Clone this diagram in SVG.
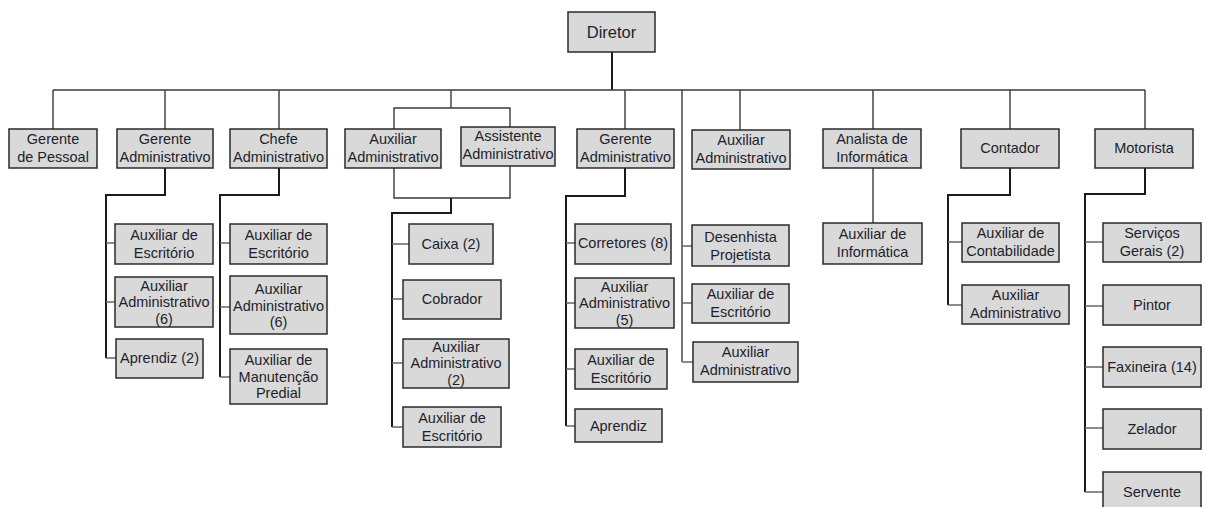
<svg xmlns="http://www.w3.org/2000/svg" width="1206" height="507" viewBox="0 0 1206 507">
<style>
.b{fill:#d9d9d9;stroke:#2a2a2a;stroke-width:1.5}
.t{font-family:"Liberation Sans",Arial,sans-serif;font-size:14.5px;fill:#1e1e2c;text-anchor:middle}
.c{fill:none;stroke:#3a3a3a;stroke-width:1.4}
.k{fill:none;stroke:#1a1a1a;stroke-width:2}
.s{fill:none;stroke:#666;stroke-width:1.3}
</style>
<rect width="1206" height="507" fill="#fff"/>
<g id="connectors">
<path class="k" d="M612 52V90"/>
<path class="c" d="M53 90H1145"/>
<path class="c" d="M53 90V129M165 90V129M279 90V129M451 90V108M625 90V129M682 90V362M740 90V130M873 90V129M1010 90V129M1145 90V129"/>
<path class="c" d="M394 129V108H510V127M394 168V198H510V166"/>
<path class="k" d="M451 198V213H392V427"/>
<path class="s" d="M392 244H409M392 299H403M392 363H403M392 427H403"/>
<path class="k" d="M165 168V195H106V358"/>
<path class="s" d="M106 243H115M106 302H115M106 358H116"/>
<path class="k" d="M279 168V195H220V377"/>
<path class="s" d="M220 243H230M220 307H230M220 377H230"/>
<path class="k" d="M625 168V196H566V426"/>
<path class="s" d="M566 243H575M566 303H575M566 369H575M566 426H575"/>
<path class="s" d="M682 246H692M682 303H692M682 362H693"/>
<path class="c" d="M873 168V223"/>
<path class="k" d="M1010 168V195H948V305"/>
<path class="s" d="M948 242H962M948 305H962"/>
<path class="k" d="M1145 168V194H1085V492"/>
<path class="s" d="M1085 242H1103M1085 306H1103M1085 367H1103M1085 428H1103M1085 492H1103"/>
</g>
<g id="diretor"><rect class="b" x="568" y="12" width="87" height="40"/><text class="t" x="611.5" y="38" style="font-size:16.5px">Diretor</text></g>
<g id="gerente-pessoal"><rect class="b" x="9" y="129" width="88" height="39"/><text class="t" x="53" y="144">Gerente<tspan x="53" y="162">de Pessoal</tspan></text></g>
<g id="gerente-adm-1"><rect class="b" x="117" y="129" width="96" height="39"/><text class="t" x="165" y="144">Gerente<tspan x="165" y="162">Administrativo</tspan></text></g>
<g id="chefe-adm"><rect class="b" x="230" y="129" width="97" height="39"/><text class="t" x="278.5" y="144">Chefe<tspan x="278.5" y="162">Administrativo</tspan></text></g>
<g id="aux-adm-top"><rect class="b" x="345" y="129" width="96" height="39"/><text class="t" x="393" y="144">Auxiliar<tspan x="393" y="162">Administrativo</tspan></text></g>
<g id="assistente-adm"><rect class="b" x="461" y="127" width="94" height="39"/><text class="t" x="508" y="141">Assistente<tspan x="508" y="159">Administrativo</tspan></text></g>
<g id="gerente-adm-2"><rect class="b" x="577" y="129" width="97" height="39"/><text class="t" x="625.5" y="144">Gerente<tspan x="625.5" y="162">Administrativo</tspan></text></g>
<g id="aux-adm-top-2"><rect class="b" x="692" y="130" width="98" height="39"/><text class="t" x="741" y="145">Auxiliar<tspan x="741" y="163">Administrativo</tspan></text></g>
<g id="analista"><rect class="b" x="823" y="129" width="98" height="39"/><text class="t" x="872" y="144">Analista de<tspan x="872" y="162">Informática</tspan></text></g>
<g id="contador"><rect class="b" x="961" y="129" width="98" height="39"/><text class="t" x="1010" y="153">Contador</text></g>
<g id="motorista"><rect class="b" x="1095" y="129" width="98" height="39"/><text class="t" x="1144" y="153">Motorista</text></g>

<g id="ga1-aux-escritorio"><rect class="b" x="115" y="224" width="98" height="40"/><text class="t" x="164" y="240">Auxiliar de<tspan x="164" y="258">Escritório</tspan></text></g>
<g id="ga1-aux-adm"><rect class="b" x="115" y="277" width="98" height="50"/><text class="t" x="164" y="291">Auxiliar<tspan x="164" y="307">Administrativo</tspan><tspan x="164" y="324">(6)</tspan></text></g>
<g id="ga1-aprendiz"><rect class="b" x="116" y="339" width="87" height="39"/><text class="t" x="159.5" y="363">Aprendiz (2)</text></g>

<g id="ca-aux-escritorio"><rect class="b" x="230" y="224" width="97" height="40"/><text class="t" x="278.5" y="240">Auxiliar de<tspan x="278.5" y="258">Escritório</tspan></text></g>
<g id="ca-aux-adm"><rect class="b" x="230" y="276" width="97" height="58"/><text class="t" x="278.5" y="294">Auxiliar<tspan x="278.5" y="311">Administrativo</tspan><tspan x="278.5" y="327">(6)</tspan></text></g>
<g id="ca-manutencao"><rect class="b" x="230" y="349" width="97" height="55"/><text class="t" x="278.5" y="365">Auxiliar de<tspan x="278.5" y="382">Manutenção</tspan><tspan x="278.5" y="398">Predial</tspan></text></g>

<g id="caixa"><rect class="b" x="409" y="224" width="84" height="40"/><text class="t" x="451" y="249">Caixa (2)</text></g>
<g id="cobrador"><rect class="b" x="403" y="280" width="98" height="39"/><text class="t" x="452" y="304">Cobrador</text></g>
<g id="mid-aux-adm"><rect class="b" x="403" y="339" width="106" height="49"/><text class="t" x="456" y="352">Auxiliar<tspan x="456" y="368">Administrativo</tspan><tspan x="456" y="385">(2)</tspan></text></g>
<g id="mid-aux-escritorio"><rect class="b" x="403" y="407" width="98" height="40"/><text class="t" x="452" y="423">Auxiliar de<tspan x="452" y="441">Escritório</tspan></text></g>

<g id="corretores"><rect class="b" x="575" y="224" width="96" height="40"/><text class="t" x="623" y="248">Corretores (8)</text></g>
<g id="ga2-aux-adm"><rect class="b" x="575" y="278" width="99" height="50"/><text class="t" x="624.5" y="292">Auxiliar<tspan x="624.5" y="308">Administrativo</tspan><tspan x="624.5" y="325">(5)</tspan></text></g>
<g id="ga2-aux-escritorio"><rect class="b" x="575" y="349" width="92" height="40"/><text class="t" x="621" y="365">Auxiliar de<tspan x="621" y="383">Escritório</tspan></text></g>
<g id="ga2-aprendiz"><rect class="b" x="575" y="409" width="87" height="33"/><text class="t" x="618.5" y="431">Aprendiz</text></g>

<g id="desenhista"><rect class="b" x="692" y="225" width="97" height="41"/><text class="t" x="740.5" y="242">Desenhista<tspan x="740.5" y="260">Projetista</tspan></text></g>
<g id="d-aux-escritorio"><rect class="b" x="692" y="284" width="97" height="39"/><text class="t" x="740.5" y="299">Auxiliar de<tspan x="740.5" y="317">Escritório</tspan></text></g>
<g id="d-aux-adm"><rect class="b" x="693" y="342" width="105" height="40"/><text class="t" x="745.5" y="357">Auxiliar<tspan x="745.5" y="375">Administrativo</tspan></text></g>

<g id="aux-informatica"><rect class="b" x="823" y="223" width="99" height="41"/><text class="t" x="872.5" y="239">Auxiliar de<tspan x="872.5" y="257">Informática</tspan></text></g>

<g id="aux-contabilidade"><rect class="b" x="962" y="223" width="97" height="39"/><text class="t" x="1010.5" y="238">Auxiliar de<tspan x="1010.5" y="256">Contabilidade</tspan></text></g>
<g id="c-aux-adm"><rect class="b" x="962" y="285" width="107" height="39"/><text class="t" x="1015.5" y="300">Auxiliar<tspan x="1015.5" y="318">Administrativo</tspan></text></g>

<g id="servicos-gerais"><rect class="b" x="1103" y="223" width="98" height="39"/><text class="t" x="1152" y="238">Serviços<tspan x="1152" y="256">Gerais (2)</tspan></text></g>
<g id="pintor"><rect class="b" x="1103" y="285" width="98" height="40"/><text class="t" x="1152" y="310">Pintor</text></g>
<g id="faxineira"><rect class="b" x="1103" y="347" width="98" height="40"/><text class="t" x="1152" y="372">Faxineira (14)</text></g>
<g id="zelador"><rect class="b" x="1103" y="409" width="98" height="40"/><text class="t" x="1152" y="434">Zelador</text></g>
<g id="servente"><rect class="b" x="1103" y="472" width="98" height="40"/><text class="t" x="1152" y="497">Servente</text></g>
</svg>
